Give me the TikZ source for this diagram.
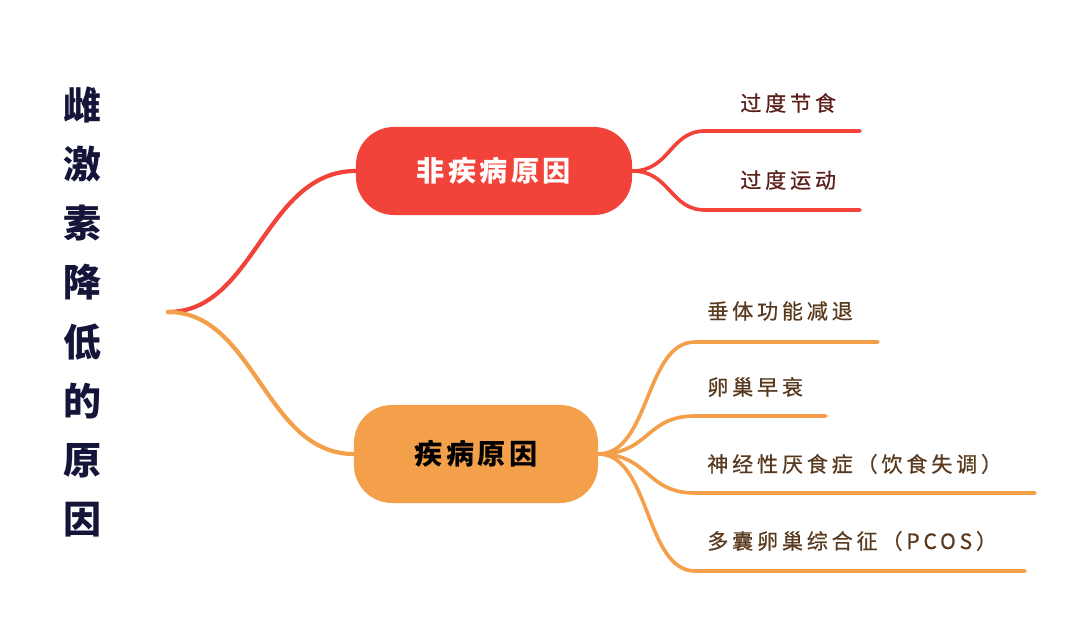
\documentclass[tikz,border=0pt]{standalone}
\usepackage{fontspec}
\setmainfont{Noto Sans CJK SC}
\newfontfamily\cjk{Noto Sans CJK SC}
\usetikzlibrary{positioning}
\definecolor{mapred}{HTML}{F2433A}
\definecolor{maporange}{HTML}{F4A04A}
\definecolor{titleink}{HTML}{15153A}
\definecolor{leafred}{HTML}{5B1F1A}
\definecolor{leafbrown}{HTML}{5A3A1F}
\tikzset{
  px/.style={x=0.025cm, y=-0.025cm},
  title/.style={text=titleink, font=\cjk\bfseries\fontsize{27}{42}\selectfont, align=center, inner sep=0pt},
  topic/.style={rounded corners=0.95cm, inner sep=0pt, font=\cjk\bfseries\fontsize{20}{24}\selectfont\addfontfeature{LetterSpace=12}},
  redtopic/.style={topic, fill=mapred, text=white, minimum width=6.9cm, minimum height=2.2cm},
  orgtopic/.style={topic, fill=maporange, text=black, minimum width=6.1cm, minimum height=2.45cm},
  leaf/.style={anchor=west, inner sep=0pt, font=\cjk\fontsize{15}{17}\selectfont\addfontfeature{LetterSpace=18,FakeBold=0.6}},
  % branch lines
  redline/.style={mapred, line width=3pt, line cap=round},
  orgline/.style={maporange, line width=3pt, line cap=round},
  leafredline/.style={mapred, line width=2.6pt, line cap=round},
  leaforgline/.style={maporange, line width=2.6pt, line cap=round},
}
\begin{document}
\begin{tikzpicture}[px]
  \useasboundingbox (0,0) rectangle (1080,622);
  % vertical title
  \node[title] (ttl) at (82,312) {雌\\激\\素\\降\\低\\的\\原\\因};
  % root and the two main topics
  \coordinate (root) at (168,312);
  \node[redtopic] (nondis) at (494,171) {非疾病原因};
  \node[orgtopic] (dis) at (476,454) {疾病原因};
  \draw[redline] (root) .. controls (255,312) and (265,171) .. (nondis.west);
  \draw[orgline] (root) .. controls (255,312) and (265,454) .. (dis.west);
  % non-disease leaves
  \coordinate (a1s) at (705,131); \coordinate (a1e) at (860,131);
  \coordinate (a2s) at (705,210); \coordinate (a2e) at (860,210);
  \draw[leafredline] (nondis.east) .. controls (670,171) and (670,131) .. (a1s) -- (a1e);
  \draw[leafredline] (nondis.east) .. controls (670,171) and (670,210) .. (a2s) -- (a2e);
  \node[leaf, text=leafred] (a1) at (740,103) {过度节食};
  \node[leaf, text=leafred] (a2) at (740,180) {过度运动};
  % disease leaves
  \coordinate (b1s) at (695,342); \coordinate (b1e) at (878,342);
  \coordinate (b2s) at (695,416); \coordinate (b2e) at (826,416);
  \coordinate (b3s) at (695,493); \coordinate (b3e) at (1035,493);
  \coordinate (b4s) at (695,571); \coordinate (b4e) at (1025,571);
  \foreach \b in {b1,b2,b3,b4}
    \draw[leaforgline] (dis.east) .. controls (650,454) and (645,0|-\b s) .. (\b s) -- (\b e);
  \node[leaf, text=leafbrown] (b1) at (707,311) {垂体功能减退};
  \node[leaf, text=leafbrown] (b2) at (707,387) {卵巢早衰};
  \node[leaf, text=leafbrown] (b3) at (707,464) {神经性厌食症（饮食失调）};
  \node[leaf, text=leafbrown] (b4) at (707,541) {多囊卵巢综合征（PCOS）};
\end{tikzpicture}
\end{document}
